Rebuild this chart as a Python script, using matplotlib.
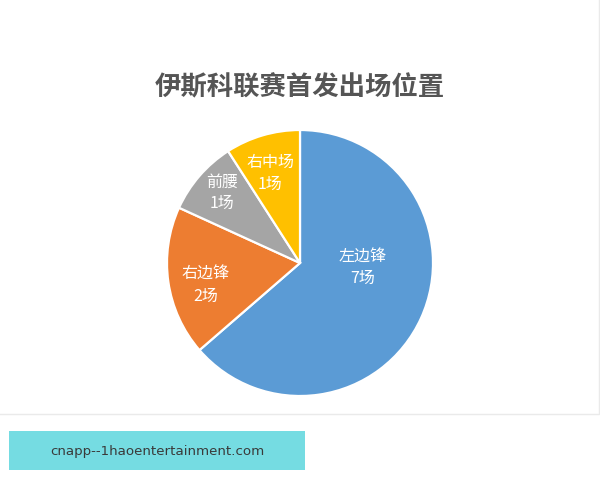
import matplotlib
matplotlib.use("Agg")
import matplotlib.pyplot as plt
import numpy as np
from matplotlib.patches import Rectangle

plt.rcParams['font.family'] = ['Noto Sans CJK SC', 'DejaVu Sans']

# 数据
positions = ["左边锋", "右边锋", "前腰", "右中场"]
matches = [7, 2, 1, 1]
colors = ["#5B9BD5", "#ED7D31", "#A5A5A5", "#FFC000"]
# 标签离圆心的距离(半径比例)和角度偏移
label_dist = [0.47, 0.73, 0.79, 0.71]
label_shift = [20, 5, -1, 2]

fig = plt.figure(figsize=(6, 4.8), dpi=100)
fig.patch.set_facecolor("white")

# 图表卡片的边框
fig.patches.append(Rectangle((-0.01, 1 - 414 / 480), 1.008, 414 / 480 + 0.02,
                             transform=fig.transFigure, facecolor="white",
                             edgecolor="#EAEAEA", linewidth=1, zorder=-5))

# 饼图
ax = fig.add_axes([(300 - 133) / 600, (480 - 396) / 480, 266 / 600, 266 / 480])
ax.set_zorder(2)
wedges, _ = ax.pie(matches, colors=colors, startangle=90, counterclock=False,
                   wedgeprops=dict(edgecolor="white", linewidth=1.6))
ax.set_xlim(-1, 1)
ax.set_ylim(-1, 1)
ax.set_aspect("equal")
ax.axis("off")

for w, name, n, d, s in zip(wedges, positions, matches, label_dist, label_shift):
    ang = np.deg2rad((w.theta1 + w.theta2) / 2 + s)
    ax.text(d * np.cos(ang), d * np.sin(ang), f"{name}\n{n}场",
            ha="center", va="center", color="white", fontsize=11.5,
            linespacing=1.35)

fig.text(0.5, 1 - 88 / 480, "伊斯科联赛首发出场位置", ha="center", va="center",
         fontsize=19, fontweight="bold", color="#555555")

# 底部水印
fig.patches.append(Rectangle((9 / 600, 1 - 470 / 480), 296 / 600, 39 / 480,
                             transform=fig.transFigure, facecolor="#75DCE2",
                             edgecolor="none", zorder=1))
fig.text(157 / 600, 1 - 451 / 480, "cnapp--1haoentertainment.com", ha="center",
         va="center", fontsize=9.6, color="#3A3A3A", family="DejaVu Sans",
         zorder=3)

fig.savefig("out.png", dpi=100)
